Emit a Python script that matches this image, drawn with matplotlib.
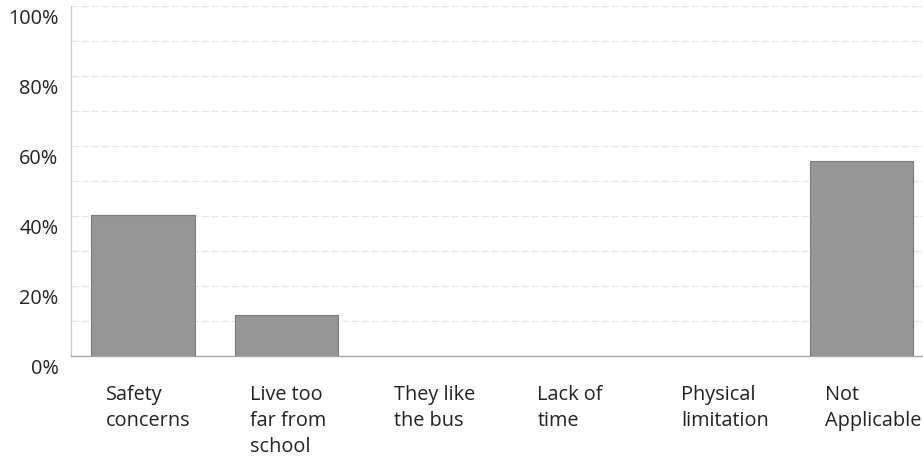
import numpy as np
import matplotlib.pyplot as plt
from matplotlib.transforms import ScaledTranslation

categories = ["Safety\nconcerns", "Live too\nfar from\nschool", "They like\nthe bus",
              "Lack of\ntime", "Physical\nlimitation", "Not\nApplicable"]
values = [40.3, 11.7, 0, 0, 0, 55.7]
ytick_vals = [0, 20, 40, 60, 80, 100]
ytick_labels = ["0%", "20%", "40%", "60%", "80%", "100%"]

plt.rcParams['font.family'] = ['Open Sans', 'DejaVu Sans']

fig = plt.figure(figsize=(9.23, 4.6), dpi=100)
ax = fig.add_axes([71 / 923, 103 / 460, 852 / 923, 350 / 460])

x = np.arange(len(categories))
w = 0.72
lw = [0.8 if v > 0 else 0 for v in values]
ax.bar(x, values, width=w, color='#969696', edgecolor='#7a7a7a', linewidth=lw, zorder=3)

ax.set_xlim(-0.5, -0.5 + 852 / 143.7)
ax.set_ylim(0, 100)

# faint gridlines every 10%
for g in range(10, 101, 10):
    ax.axhline(g, color='#e6e6e6', linewidth=0.9, linestyle=(0, (6, 2)), zorder=1)

ax.set_yticks(ytick_vals)
ax.set_yticklabels(ytick_labels, fontsize=14.3, color='#222222')
ax.tick_params(axis='y', length=0, pad=9)
for lab in ax.get_yticklabels():
    lab.set_transform(lab.get_transform() + ScaledTranslation(0, -10 / 100, fig.dpi_scale_trans))

ax.set_xticks(x - w / 2 + 0.105)
ax.set_xticklabels(categories, fontsize=14.3, color='#222222', ha='left', linespacing=1.4)
ax.tick_params(axis='x', length=0, pad=20)

for s in ['top', 'right']:
    ax.spines[s].set_visible(False)
ax.spines['left'].set_color('#c8c8c8')
ax.spines['left'].set_linewidth(0.9)
ax.spines['bottom'].set_color('#a8a8a8')
ax.spines['bottom'].set_linewidth(1.0)
ax.spines['bottom'].set_linestyle((0, (3, 1)))

fig.savefig("out.png", dpi=100)
